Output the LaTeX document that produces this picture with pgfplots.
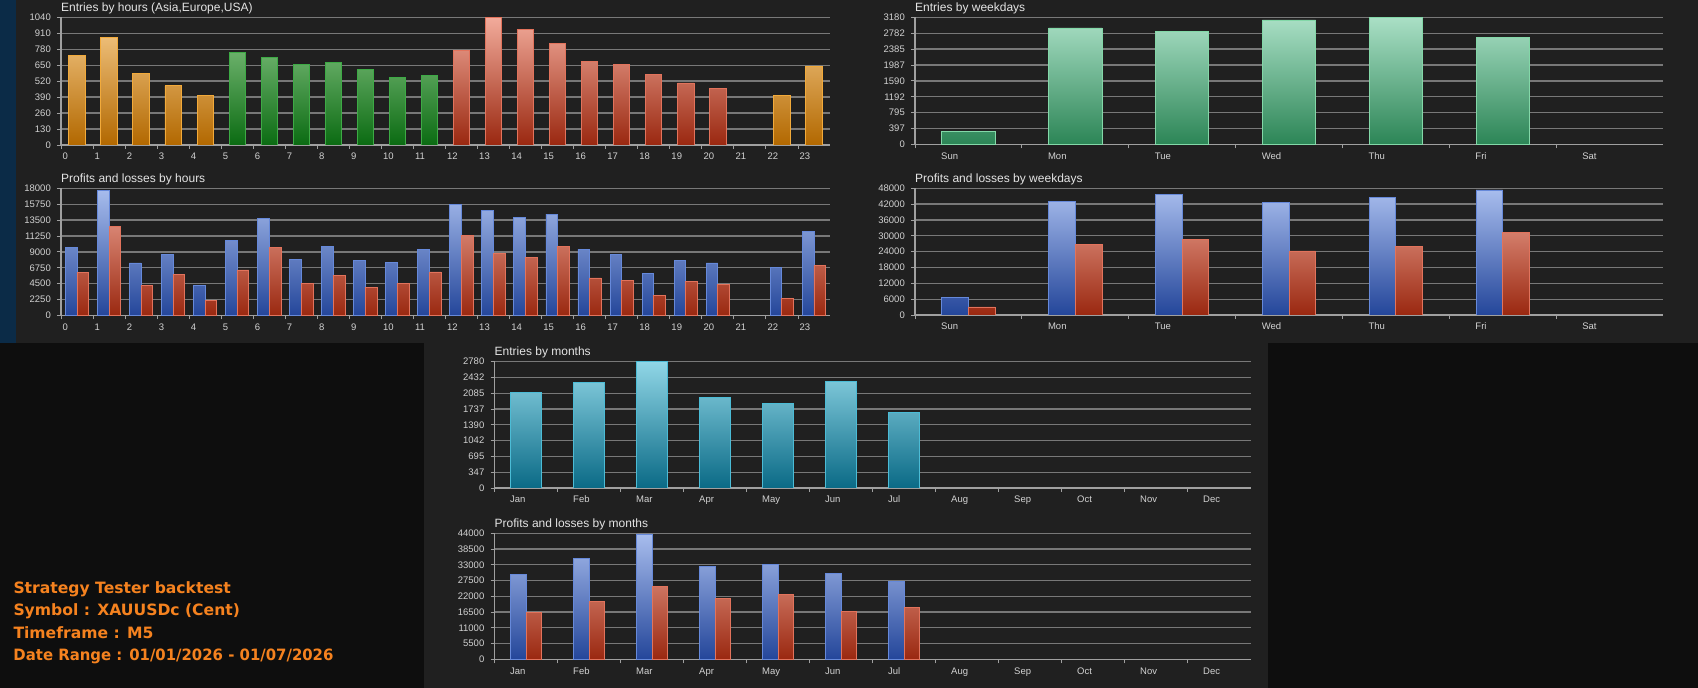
\documentclass[border=0pt]{standalone}
\usepackage{pgfplots}
\pgfplotsset{compat=1.18}
\usepackage{fontspec}
\setmainfont{Liberation Sans}
\newfontfamily\boldfont{DejaVu Sans}
\definecolor{bgblack}{HTML}{0E0E0E}
\definecolor{panel}{HTML}{202020}
\definecolor{strip}{HTML}{0B2B47}
\definecolor{gridc}{HTML}{787878}
\definecolor{axisc}{HTML}{A0A0A0}
\definecolor{tickc}{HTML}{D2D2D2}
\definecolor{titlec}{HTML}{E4E4E4}
\definecolor{orangetxt}{HTML}{F5821F}
\definecolor{orT}{HTML}{F7CC8C}\definecolor{orB}{HTML}{B26800}\definecolor{orE}{HTML}{F2AA3A}
\definecolor{grT}{HTML}{8DC98A}\definecolor{grB}{HTML}{0B6B12}\definecolor{grE}{HTML}{3DAA45}
\definecolor{rdT}{HTML}{F2AB9B}\definecolor{rdB}{HTML}{9A2810}\definecolor{rdE}{HTML}{E2735C}
\definecolor{blT}{HTML}{A9BEEE}\definecolor{blB}{HTML}{24469A}\definecolor{blE}{HTML}{6689DA}
\definecolor{wgT}{HTML}{A9DFC5}\definecolor{wgB}{HTML}{2C8556}\definecolor{wgE}{HTML}{83D8A8}
\definecolor{tlT}{HTML}{90D6E6}\definecolor{tlB}{HTML}{0A6A86}\definecolor{tlE}{HTML}{4BBCD6}
\pgfplotsset{
  panelaxis/.style={
    scale only axis, anchor=south west, ymin=0,
    scaled y ticks=false,
    axis lines=left, axis line style={-, color=axisc, line width=1.2pt},
    ymajorgrids, major grid style={color=gridc, line width=1.3pt},
    tick align=outside, major tick length=4pt,
    major tick style={color=axisc, line width=0.9pt},
    every axis title/.style={at={(0,1)}, anchor=west, yshift=9pt, inner sep=0pt,
      font=\fontsize{12}{14}\selectfont, text=titlec},
    yticklabel style={anchor=east, xshift=-6pt, inner sep=0pt,
      font=\fontsize{9.5}{11}\selectfont, text=tickc},
    xticklabel style={anchor=base west, yshift=-10.8pt, inner sep=0pt,
      font=\fontsize{9.5}{11}\selectfont, text=tickc},
  },
  gbar/.style n args={4}{ybar, bar shift=0, draw=#3, line width=0.9pt,
    top color=#1!#4!#2, bottom color=#2},
  hours/.style={panelaxis, width=769pt, xmin=-0.5, xmax=23.5, xtick={-0.5,0.5,...,22.5},
    xticklabels={0,1,2,3,4,5,6,7,8,9,10,11,12,13,14,15,16,17,18,19,20,21,22,23},
    xticklabel style={xshift=1.5pt}},
  wdays/.style={panelaxis, width=748pt, xmin=-0.5, xmax=6.5, xtick={-0.5,0.5,...,5.5},
    xticklabels={Sun,Mon,Tue,Wed,Thu,Fri,Sat}, xticklabel style={xshift=26pt}},
  months/.style={panelaxis, width=756pt, xmin=-0.5, xmax=11.5, xtick={-0.5,0.5,...,10.5},
    xticklabels={Jan,Feb,Mar,Apr,May,Jun,Jul,Aug,Sep,Oct,Nov,Dec}, xticklabel style={xshift=15.5pt}},
}
\begin{document}
\begin{tikzpicture}
\useasboundingbox (0pt,0pt) rectangle (1698pt,688pt);
\fill[bgblack] (0pt,0pt) rectangle (1698pt,688pt);
\fill[panel] (16pt,345pt) rectangle (1698pt,688pt);
\fill[strip] (0pt,345pt) rectangle (16pt,688pt);
\fill[panel] (424pt,0pt) rectangle (1268pt,345pt);

% A: Entries by hours
\begin{axis}[hours, at={(61pt,543pt)}, height=127.7pt, ymax=1040,
  ytick={0,130,...,1040}, yticklabels={0,130,260,390,520,650,780,910,1040},
  title={Entries by hours (Asia,Europe,USA)}]
\addplot[gbar={orT}{orB}{orE}{84}, bar width=0.51] coordinates {(0,730) (1,874) (2,584) (3,481) (4,407) (22,400) (23,643)};
\addplot[gbar={grT}{grB}{grE}{73}, bar width=0.51] coordinates {(5,755) (6,714) (7,657) (8,671) (9,616) (10,549) (11,570)};
\addplot[gbar={rdT}{rdB}{rdE}{100}, bar width=0.51] coordinates {(12,766) (13,1040) (14,942) (15,825) (16,682) (17,652) (18,576) (19,505) (20,462)};
\end{axis}

% B: Profits and losses by hours
\begin{axis}[hours, at={(61pt,372.5pt)}, height=127.2pt, ymax=18000,
  ytick={0,2250,...,18000}, yticklabels={0,2250,4500,6750,9000,11250,13500,15750,18000},
  title={Profits and losses by hours}]
\addplot[gbar={blT}{blB}{blE}{98}, bar width=0.365, bar shift=-0.1825] coordinates {
 (0,9680) (1,17670) (2,7430) (3,8600) (4,4230) (5,10620) (6,13770) (7,7990) (8,9780) (9,7800)
 (10,7520) (11,9350) (12,15740) (13,14800) (14,13860) (15,14330) (16,9350) (17,8600) (18,5970)
 (19,7760) (20,7430) (22,6860) (23,11930)};
\addplot[gbar={rdT}{rdB}{rdE}{70}, bar width=0.365, bar shift=0.1825] coordinates {
 (0,6110) (1,12550) (2,4230) (3,5780) (4,2120) (5,6440) (6,9680) (7,4560) (8,5730) (9,3900)
 (10,4510) (11,6160) (12,11280) (13,8740) (14,8230) (15,9730) (16,5310) (17,4890) (18,2770)
 (19,4790) (20,4420) (22,2460) (23,7060)};
\end{axis}

% C: Entries by weekdays
\begin{axis}[wdays, at={(915pt,543.5pt)}, height=127.2pt, ymax=3180,
  ytick={0,397.5,795,1192.5,1590,1987.5,2385,2782.5,3180},
  yticklabels={0,397,795,1192,1590,1987,2385,2782,3180},
  title={Entries by weekdays}]
\addplot[gbar={wgT}{wgB}{wgE}{100}, bar width=0.5] coordinates {(0,326) (1,2913) (2,2821) (3,3113) (4,3172) (5,2679)};
\end{axis}

% D: Profits and losses by weekdays
\begin{axis}[wdays, at={(915pt,373pt)}, height=126.7pt, ymax=48000,
  ytick={0,6000,...,48000}, yticklabels={0,6000,12000,18000,24000,30000,36000,42000,48000},
  title={Profits and losses by weekdays}]
\addplot[gbar={blT}{blB}{blE}{99}, bar width=0.25, bar shift=-0.125] coordinates {(0,6700) (1,43070) (2,45730) (3,42570) (4,44590) (5,47360)};
\addplot[gbar={rdT}{rdB}{rdE}{65}, bar width=0.25, bar shift=0.125] coordinates {(0,3030) (1,26780) (2,28670) (3,24250) (4,25900) (5,31180)};
\end{axis}

% E: Entries by months
\begin{axis}[months, at={(494.5pt,200pt)}, height=126.3pt, ymax=2780,
  ytick={0,347.5,695,1042.5,1390,1737.5,2085,2432.5,2780},
  yticklabels={0,347,695,1042,1390,1737,2085,2432,2780},
  title={Entries by months}]
\addplot[gbar={tlT}{tlB}{tlE}{100}, bar width=0.5] coordinates {(0,2096) (1,2331) (2,2780) (3,2000) (4,1853) (5,2346) (6,1669)};
\end{axis}

% F: Profits and losses by months
\begin{axis}[months, at={(494.5pt,28.7pt)}, height=126pt, ymax=44000,
  ytick={0,5500,...,44000}, yticklabels={0,5500,11000,16500,22000,27500,33000,38500,44000},
  title={Profits and losses by months}]
\addplot[gbar={blT}{blB}{blE}{99}, bar width=0.245, bar shift=-0.1225] coordinates {(0,29670) (1,35260) (2,43770) (3,32580) (4,33160) (5,30020) (6,27340)};
\addplot[gbar={rdT}{rdB}{rdE}{58}, bar width=0.245, bar shift=0.1225] coordinates {(0,16500) (1,20230) (2,25470) (3,21160) (4,22680) (5,16620) (6,18250)};
\end{axis}

\begin{scope}[every node/.style={anchor=base west, inner sep=0pt, text=orangetxt,
  font=\boldfont\bfseries\fontsize{15.6}{18}\selectfont}]
\node at (13.3pt,94.7pt) {Strategy Tester backtest};
\node at (13.3pt,72pt) {Symbol : XAUUSDc (Cent)};
\node at (13.3pt,49.3pt) {Timeframe : M5};
\node[xscale=0.955] at (13.3pt,27.3pt) {Date Range : 01/01/2026 - 01/07/2026};
\end{scope}
\end{tikzpicture}
\end{document}
